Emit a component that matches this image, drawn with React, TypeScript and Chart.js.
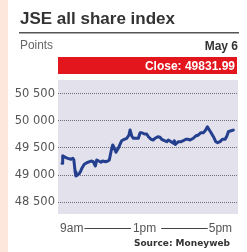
import React, { useEffect, useRef } from "react";
import { Chart, registerables } from "chart.js";

Chart.register(...registerables);

const title = "JSE all share index";
const unitLabel = "Points";
const dateLabel = "May 6";
const closeValue = 49831.99;
const sourceLabel = "Source: Moneyweb";

const yTicks = [48500, 49000, 49500, 50000, 50500];
const xTickLabels = ["9am", "1pm", "5pm"];
const xTickHours = [9, 13, 17];

const hours = [
  9.0, 9.03, 9.15, 9.27, 9.42, 9.5, 9.55, 9.61, 9.65, 9.73, 9.81, 9.86, 9.94, 10.04, 10.16,
  10.25, 10.36, 10.46, 10.56, 10.62, 10.72, 10.82, 10.9, 11.03, 11.14, 11.21, 11.29, 11.37,
  11.44, 11.52, 11.63, 11.71, 11.79, 11.91, 12.03, 12.13, 12.18, 12.26, 12.33, 12.45, 12.57,
  12.65, 12.73, 12.85, 12.96, 13.04, 13.16, 13.27, 13.35, 13.48, 13.58, 13.66, 13.79, 13.9,
  13.97, 14.1, 14.21, 14.25, 14.3, 14.44, 14.57, 14.67, 14.79, 14.91, 14.99, 15.14, 15.25,
  15.38, 15.5, 15.61, 15.72, 15.8, 15.84, 15.97, 16.08, 16.19, 16.28, 16.39, 16.5, 16.63,
  16.71, 16.78, 16.91, 17.01,
];
const points = [
  49217, 49357, 49328, 49309, 49291, 49309, 49285, 49061, 48981, 49000, 49031, 49061, 49135,
  49198, 49228, 49241, 49259, 49246, 49167, 49278, 49259, 49235, 49259, 49246, 49259, 49278,
  49431, 49556, 49506, 49420, 49494, 49568, 49635, 49661, 49680, 49741, 49833, 49722, 49680,
  49680, 49680, 49783, 49783, 49759, 49759, 49709, 49661, 49648, 49680, 49709, 49698, 49661,
  49635, 49617, 49648, 49617, 49587, 49635, 49565, 49617, 49617, 49635, 49661, 49661, 49648,
  49680, 49722, 49741, 49783, 49783, 49833, 49894, 49865, 49783, 49709, 49617, 49598, 49617,
  49661, 49661, 49722, 49802, 49820, 49832,
];

const fmtThousands = (v: number) => {
  const s = Math.round(v).toString();
  return s.slice(0, s.length - 3) + " " + s.slice(s.length - 3);
};

const decorPlugin = {
  id: "decor",
  beforeDraw(chart: any) {
    const { ctx, chartArea, width, height } = chart;
    ctx.save();
    ctx.fillStyle = "#ffffff";
    ctx.fillRect(0, 0, width, height);
    ctx.fillStyle = "#fde6dc";
    ctx.fillRect(0, 0, 8, height);
    // plot background
    ctx.fillStyle = "#e3e2ec";
    ctx.fillRect(chartArea.left, chartArea.top, chartArea.right - chartArea.left, chartArea.bottom - chartArea.top);
    // title
    ctx.fillStyle = "#333333";
    ctx.font = "bold 17px 'Liberation Sans', Arial, sans-serif";
    ctx.textAlign = "left";
    ctx.textBaseline = "alphabetic";
    ctx.fillText(title, 20, 24, 168);
    // divider
    ctx.fillStyle = "#555555";
    ctx.fillRect(19, 32, 220, 1.5);
    // unit
    ctx.fillStyle = "#666666";
    ctx.font = "12px 'Liberation Sans', Arial, sans-serif";
    ctx.fillText(unitLabel, 20, 49, 33);
    // date
    ctx.fillStyle = "#333333";
    ctx.font = "bold 12px 'Liberation Sans', Arial, sans-serif";
    ctx.textAlign = "right";
    ctx.fillText(dateLabel, 238, 50);
    // red close box
    ctx.fillStyle = "#e2161c";
    ctx.fillRect(chartArea.left, 57, chartArea.right - chartArea.left - 1, 17);
    ctx.fillStyle = "#ffffff";
    ctx.font = "bold 12px 'Liberation Sans', Arial, sans-serif";
    ctx.fillText("Close: " + closeValue.toFixed(2), 235, 70, 93);
    ctx.restore();
  },
  afterDraw(chart: any) {
    const { ctx } = chart;
    const xs = chart.scales.x;
    ctx.save();
    ctx.fillStyle = "#555555";
    ctx.font = "12px 'Liberation Sans', Arial, sans-serif";
    ctx.textBaseline = "alphabetic";
    const y = 232;
    const p0 = xs.getPixelForValue(xTickHours[0]) - 2;
    const p1 = xs.getPixelForValue(xTickHours[1]) - 3;
    const p2 = xs.getPixelForValue(xTickHours[2]) - 1;
    ctx.textAlign = "left";
    ctx.fillText(xTickLabels[0], p0, y);
    const w0 = ctx.measureText(xTickLabels[0]).width;
    ctx.textAlign = "center";
    ctx.fillText(xTickLabels[1], p1, y);
    const w1 = ctx.measureText(xTickLabels[1]).width;
    ctx.textAlign = "right";
    ctx.fillText(xTickLabels[2], p2, y);
    const w2 = ctx.measureText(xTickLabels[2]).width;
    ctx.fillStyle = "#444444";
    const ly = 228;
    ctx.fillRect(p0 + w0 + 1, ly, p1 - w1 / 2 - 2 - (p0 + w0 + 1), 1);
    ctx.fillRect(p1 + w1 / 2 + 5, ly, p2 - w2 - 1 - (p1 + w1 / 2 + 5), 1);
    // source
    ctx.fillStyle = "#333333";
    ctx.font = "bold 9px 'DejaVu Sans', sans-serif";
    ctx.textAlign = "right";
    ctx.fillText(sourceLabel, 230, 246, 98);
    ctx.restore();
  },
};

export default function App() {
  const ref = useRef<HTMLCanvasElement | null>(null);
  useEffect(() => {
    document.body.style.margin = "0";
    if (!ref.current) return;
    const chart = new Chart(ref.current, {
      type: "line",
      data: {
        datasets: [
          {
            data: hours.map((h, i) => ({ x: h, y: points[i] })),
            borderColor: "#243f8e",
            borderWidth: 3,
            pointRadius: 0,
            tension: 0,
            borderJoinStyle: "round",
            borderCapStyle: "round",
          },
        ],
      },
      options: {
        animation: false,
        responsive: false,
        maintainAspectRatio: false,
        layout: { padding: { left: 0, right: 9, top: 80, bottom: 38 } },
        plugins: { legend: { display: false }, tooltip: { enabled: false } },
        scales: {
          x: { type: "linear", display: false, min: 8.81, max: 17.23 },
          y: {
            min: 48278,
            max: 50759,
            afterBuildTicks: (s: any) => {
              s.ticks = yTicks.map((v) => ({ value: v }));
            },
            afterFit: (s: any) => {
              s.width = 58;
            },
            border: { display: false, dash: [1, 1] },
            grid: { color: "#6d6d78", lineWidth: 1, drawTicks: false },
            ticks: {
              padding: 3,
              color: "#555555",
              font: { family: "'DejaVu Sans', sans-serif", size: 11.5 },
              callback: (v: any) => fmtThousands(Number(v)),
            },
          },
        },
      },
      plugins: [decorPlugin],
    });
    return () => chart.destroy();
  }, []);
  return (
    <div style={{ position: "fixed", left: 0, top: 0, width: 247, height: 252 }}>
      <canvas ref={ref} width={247} height={252} style={{ width: 247, height: 252, display: "block" }} />
    </div>
  );
}
